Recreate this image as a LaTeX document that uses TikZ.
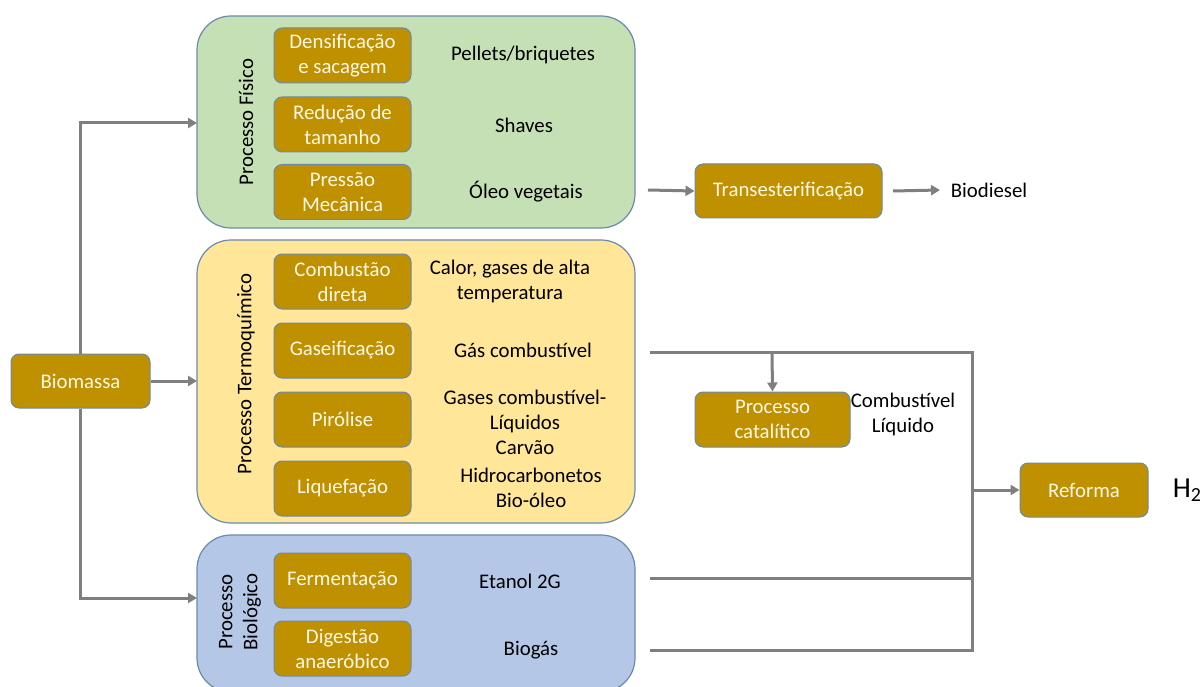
\documentclass[tikz,border=0pt]{standalone}
\usepackage{fontspec}
\setmainfont{Carlito}
\usetikzlibrary{arrows.meta,positioning}
\definecolor{gold}{HTML}{BF9000}
\definecolor{edgeblue}{HTML}{6A8AAE}
\definecolor{lgreen}{HTML}{C5E0B4}
\definecolor{lyellow}{HTML}{FFE699}
\definecolor{lblue}{HTML}{B4C7E7}
\definecolor{linegrey}{HTML}{7F7F7F}
\definecolor{txtcream}{HTML}{FFF8E6}
\tikzset{
  x=1pt,y=-1pt,
  every node/.style={font=\fontsize{20.8}{25}\selectfont},
  group/.style={draw=edgeblue,line width=1.2pt,rounded corners=34pt},
  proc/.style={draw=edgeblue,line width=1pt,fill=gold,rounded corners=8pt,text=txtcream,align=center,inner sep=0pt},
  outtxt/.style={text=black,align=center,inner sep=0pt},
  vlabel/.style={rotate=90,text=black,align=center,inner sep=0pt},
  conn/.style={draw=linegrey,line width=3pt},
  arr/.style={conn,-{Triangle[length=9pt,width=10pt]}},
}
\begin{document}
\begin{tikzpicture}
\useasboundingbox (0,0) rectangle (1202,687);
\fill[white] (0,0) rectangle (1202,687);

% group boxes
\draw[group,fill=lgreen] (197,16) rectangle (635,228);
\draw[group,fill=lyellow] (197,240) rectangle (635,523);
\draw[group,fill=lblue] (197,535) rectangle (635,692);

% vertical labels
\node[vlabel] (lfis) at (246,122) {Processo Físico};
\node[vlabel] (lter) at (246,374) {Processo Termoquímico};
\node[vlabel] (lbio) at (240,612) {Processo\\Biológico};

% inner process boxes
\node[proc,minimum width=137pt,minimum height=55pt] (dens) at (342.5,55.5) {Densificação\\e sacagem};
\node[proc,minimum width=137pt,minimum height=55pt] (redu) at (342.5,124.5) {Redução de\\tamanho};
\node[proc,minimum width=137pt,minimum height=55pt] (pres) at (342.5,192) {Pressão\\Mecânica};
\node[proc,minimum width=137pt,minimum height=55pt] (comb) at (342.5,281.5) {Combustão\\direta};
\node[proc,minimum width=137pt,minimum height=55pt] (gase) at (342.5,350.5) {Gaseificação};
\node[proc,minimum width=137pt,minimum height=55pt] (piro) at (342.5,419.5) {Pirólise};
\node[proc,minimum width=137pt,minimum height=55pt] (lique) at (342.5,488.5) {Liquefação};
\node[proc,minimum width=137pt,minimum height=55pt] (ferm) at (342.5,580.5) {Fermentação};
\node[proc,minimum width=137pt,minimum height=55pt] (dige) at (342.5,648.5) {Digestão\\anaeróbico};

% outputs
\node[outtxt] (opel) at (523,55) {Pellets/briquetes};
\node[outtxt] (osha) at (524,125) {Shaves};
\node[outtxt] (ooleo) at (526,192) {Óleo vegetais};
\node[outtxt] (ocal) at (510,281) {Calor, gases de alta\\temperatura};
\node[outtxt] (ogas) at (523,350) {Gás combustível};
\node[outtxt] (opir) at (525,422) {Gases combustível-\\Líquidos\\Carvão};
\node[outtxt] (oliq) at (531,488) {Hidrocarbonetos\\Bio-óleo};
\node[outtxt] (oeta) at (520,581) {Etanol 2G};
\node[outtxt] (obio) at (531,650) {Biogás};

% left source
\node[proc,minimum width=139pt,minimum height=54pt] (bio) at (80.5,381) {Biomassa};

% right side boxes
\node[proc,minimum width=187pt,minimum height=54pt] (trans) at (788.5,191) {Transesterificação};
\node[outtxt] (biod) at (989,190) {Biodiesel};
\node[proc,minimum width=155pt,minimum height=55pt] (cata) at (772.5,419.5) {Processo\\catalítico};
\node[outtxt] (oliqc) at (903,414) {Combustível\\Líquido};
\node[proc,minimum width=128pt,minimum height=54pt] (refo) at (1084,490) {Reforma};
\node[outtxt,font=\fontsize{29}{32}\selectfont] (h2) at (1187,490) {H\raisebox{-0.12em}{\fontsize{20}{22}\selectfont 2}};

% coordinates
\coordinate (ftop) at (197,123);
\coordinate (fbot) at (197,598);
\coordinate (fmid) at (197,381);
\coordinate (s1) at (648,190);
\coordinate (s2) at (893,190);
\coordinate (g0) at (650,352);
\coordinate (g1) at (972,352);
\coordinate (b1) at (972,650);
\coordinate (e0) at (650,578);
\coordinate (e1) at (972,578);
\coordinate (d0) at (650,650);
\coordinate (r0) at (972,490);
\coordinate (cbr) at (772,352);

% connectors
\draw[arr] (bio.north -| 80,0) |- (ftop);
\draw[arr] (bio.south -| 80,0) |- (fbot);
\draw[arr] (bio.east) -- (fmid);
\draw[arr] (s1) -- (trans.west);
\draw[arr] (trans.east -| s2) -- (940,190);
\draw[conn] (g0) -- (g1) -- (b1) -- (d0);
\draw[conn] (e0) -- (e1);
\draw[arr] (cbr) -- (cata.north);
\draw[arr] (r0) -- (refo.west);
\end{tikzpicture}
\end{document}
